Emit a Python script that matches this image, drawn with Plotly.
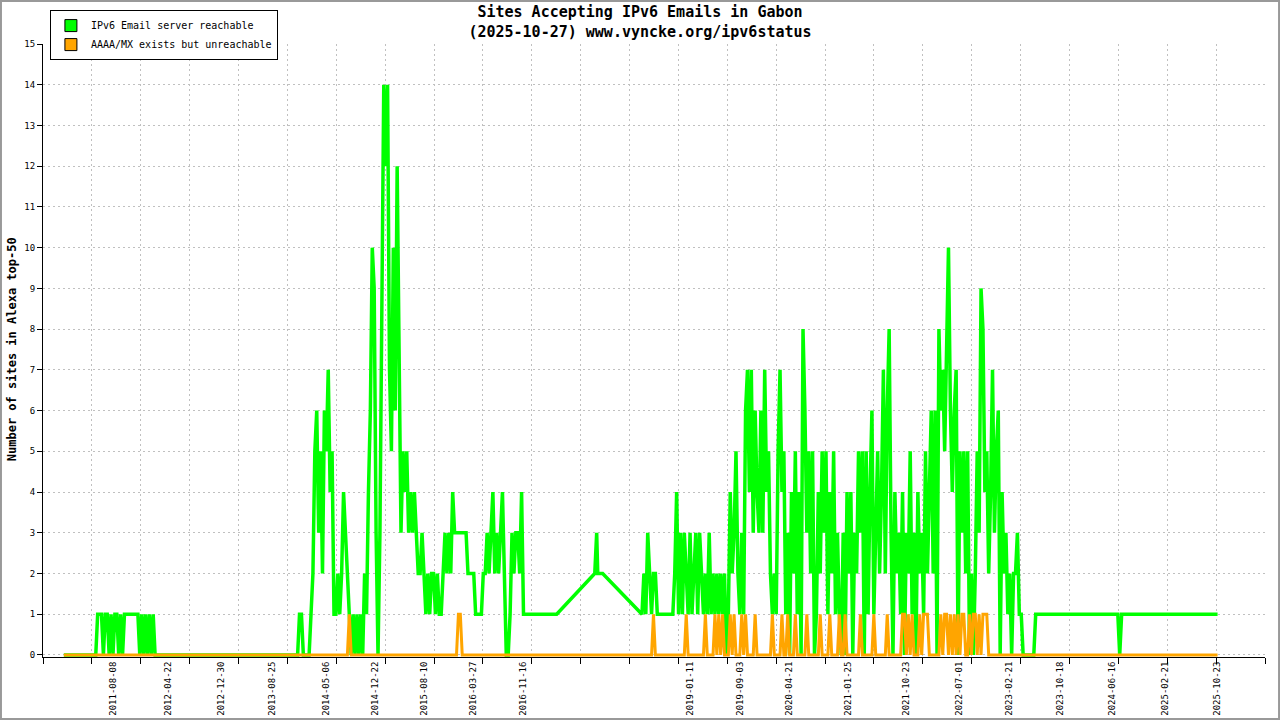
import pandas as pd
import plotly.graph_objects as go

# IPv6 email status for Gabon
start_date = "2010-12-21"
end_date = "2025-10-27"
step = "9D"

# 2011 burst (reachable), samples every 9 days from 2011-05-11
a_start = "2011-05-11"
green_a = [0, 0, 1, 1, 1, 0, 1, 1, 0, 1, 0, 1, 1, 0, 1, 0, 1, 1, 1, 1, 1, 1, 1, 1,
           0, 1, 0, 1, 0, 1, 0, 1, 0]

# 2014-2016, samples every 9 days from 2013-12-15
b_start = "2013-12-15"
green_b = [0, 0, 1, 1, 0, 0, 0, 0, 1, 2,
           5, 6, 3, 5, 2, 6, 5, 7, 4, 5,
           1, 1, 2, 1, 2, 4, 3, 2, 1, 0,
           1, 0, 1, 0, 1, 0, 2, 1, 4, 6,
           10, 9, 3, 0, 3, 9, 14, 12, 14, 7,
           5, 10, 6, 12, 8, 3, 5, 4, 5, 3,
           4, 3, 4, 3, 2, 2, 3, 2, 1, 2,
           1, 2, 2, 1, 2, 1, 1, 2, 3, 2,
           3, 2, 4, 3, 3, 3, 3, 3, 3, 3,
           2, 2, 2, 2, 1, 1, 1, 1, 2, 2,
           3, 2, 3, 4, 2, 3, 2, 3, 4, 2,
           0, 0, 1, 3, 2, 3, 3, 2, 4, 1, 1]
orange_b = [0] * 28 + [1] + [0] * 56 + [1, 1] + [0] * 34

# sparse readings 2017-2018
mid_dates = ["2017-04-25", "2017-10-21", "2017-10-30", "2017-11-04", "2017-11-27"]
green_mid = [1, 2, 3, 2, 2]

# mid 2018, samples every 9 days from 2018-05-31
c1_start = "2018-05-31"
green_c1 = [1, 2, 1, 3, 2, 1, 2, 2, 1]
orange_c1 = [0, 0, 0, 0, 0, 0, 1, 0, 0]

# late 2018 - 2023, samples every 9 days from 2018-10-23
c2_start = "2018-10-23"
green_c2 = [1, 2, 4, 1, 3, 1, 3, 2, 1, 3,
            1, 2, 3, 1, 3, 2, 1, 2, 1, 3,
            1, 2, 1, 2, 1, 2, 1, 2, 0, 1,
            4, 2, 3, 5, 2, 1, 3, 1, 6, 7,
            4, 7, 3, 6, 4, 3, 6, 3, 7, 4,
            5, 2, 1, 2, 1, 5, 7, 4, 5, 1,
            3, 0, 4, 2, 5, 1, 4, 0, 8, 6,
            3, 5, 2, 5, 0, 1, 4, 2, 5, 3,
            5, 1, 4, 2, 5, 1, 3, 1, 0, 3,
            0, 4, 2, 4, 0, 3, 2, 5, 3, 5,
            0, 5, 1, 4, 6, 1, 3, 5, 2, 4,
            7, 2, 6, 8, 3, 0, 4, 2, 3, 1,
            4, 0, 3, 2, 5, 1, 3, 0, 4, 2,
            3, 1, 5, 2, 4, 6, 2, 6, 0, 8,
            6, 7, 5, 8, 10, 6, 4, 6, 7, 0,
            5, 3, 5, 2, 5, 0, 2, 0, 2, 5,
            3, 9, 8, 4, 5, 2, 4, 7, 3, 5,
            6, 0, 4, 2, 3, 1, 2, 0, 2, 2,
            3, 1, 1, 0]
orange_c2 = [0, 0, 0, 0, 0, 0, 0, 1, 0, 0,
             0, 0, 0, 0, 0, 0, 0, 1, 0, 0,
             0, 0, 1, 0, 1, 0, 1, 0, 0, 0,
             1, 0, 1, 0, 0, 0, 1, 0, 1, 0,
             0, 0, 0, 1, 0, 0, 0, 0, 0, 0,
             0, 0, 1, 0, 0, 0, 0, 1, 0, 0,
             1, 0, 0, 0, 1, 0, 0, 0, 0, 0,
             1, 0, 0, 0, 0, 0, 0, 1, 0, 0,
             0, 0, 1, 0, 0, 0, 0, 1, 0, 0,
             1, 0, 0, 0, 0, 0, 0, 0, 1, 0,
             0, 0, 0, 0, 0, 1, 0, 0, 0, 0,
             0, 0, 1, 0, 0, 0, 0, 0, 0, 0,
             1, 1, 0, 1, 0, 1, 0, 0, 0, 1,
             0, 1, 1, 1, 0, 0, 0, 0, 0, 0,
             1, 0, 1, 1, 0, 1, 0, 1, 0, 1,
             0, 1, 1, 0, 0, 1, 0, 1, 1, 0,
             1, 0, 1, 1, 1, 0, 0, 0, 0, 0,
             0, 0, 0, 0, 0, 0, 0, 0, 0, 0,
             0, 0, 0, 0]

# 2023 onwards
tail_dates = ["2023-06-16", "2023-06-25", "2024-07-15", "2024-07-24", "2024-08-02", end_date]
green_tail = [0, 1, 1, 0, 1, 1]

tick_labels = ["2011-08-08", "2012-04-22", "2012-12-30", "2013-08-25", "2014-05-06",
               "2014-12-22", "2015-08-10", "2016-03-27", "2016-11-16", "2019-01-11",
               "2019-09-03", "2020-04-21", "2021-01-25", "2021-10-23", "2022-07-01",
               "2023-02-21", "2023-10-18", "2024-06-16", "2025-02-21", "2025-10-23"]


def sampled(start, vals):
    return list(pd.date_range(start, periods=len(vals), freq=step))


green_x = ([pd.Timestamp(start_date)] + sampled(a_start, green_a) + sampled(b_start, green_b)
           + list(pd.to_datetime(mid_dates)) + sampled(c1_start, green_c1)
           + sampled(c2_start, green_c2) + list(pd.to_datetime(tail_dates)))
green_y = [0] + green_a + green_b + green_mid + green_c1 + green_c2 + green_tail

orange_x = ([pd.Timestamp(start_date)] + sampled(b_start, orange_b) + sampled(c1_start, orange_c1)
            + sampled(c2_start, orange_c2) + [pd.Timestamp(end_date)])
orange_y = [0] + orange_b + orange_c1 + orange_c2 + [0]

mono = "DejaVu Sans Mono"
green = "#00ff00"
orange = "#ffa500"
grid = "#c0c0c0"

fig = go.Figure()
fig.add_trace(go.Scatter(x=green_x, y=green_y, mode="lines", line=dict(color=green, width=3.5),
                         showlegend=False, hoverinfo="skip"))
fig.add_trace(go.Scatter(x=orange_x, y=orange_y, mode="lines", line=dict(color=orange, width=3),
                         showlegend=False, hoverinfo="skip"))
# legend swatches
fig.add_trace(go.Bar(x=[None], y=[None], name="IPv6 Email server reachable",
                     marker=dict(color=green, line=dict(color="black", width=1))))
fig.add_trace(go.Bar(x=[None], y=[None], name="AAAA/MX exists but unreachable",
                     marker=dict(color=orange, line=dict(color="black", width=1))))
# carrier for the evenly spaced tick/grid axis
fig.add_trace(go.Scatter(x=[None], y=[None], xaxis="x2", showlegend=False, hoverinfo="skip"))

x_range = ["2010-09-14", "2026-06-07"]

fig.update_layout(
    width=1280, height=720,
    margin=dict(l=43, r=15, t=44, b=63, autoexpand=False),
    paper_bgcolor="white", plot_bgcolor="white",
    title=dict(text="<b>Sites Accepting IPv6 Emails in Gabon</b><br><b>(2025-10-27) www.vyncke.org/ipv6status</b>",
               x=0.5, xref="container", xanchor="center",
               y=0.976, yref="container", yanchor="top",
               font=dict(family=mono, size=15, color="black")),
    xaxis=dict(type="date", range=x_range, tickmode="array",
               tickvals=tick_labels, ticktext=tick_labels, tickangle=-90,
               ticks="", showgrid=False, zeroline=False, automargin=False,
               showline=True, linecolor="black", linewidth=1, layer="below traces",
               tickfont=dict(family=mono, size=9, color="black")),
    xaxis2=dict(type="date", range=x_range, overlaying="x", anchor="y", side="bottom",
                tickmode="linear", tick0="2010-09-14", dtick=229.8 * 86400000,
                showticklabels=False, ticks="outside", ticklen=6, tickcolor="black",
                showgrid=True, gridcolor=grid, griddash="2px,3px", gridwidth=1,
                zeroline=False, showline=False, layer="below traces", automargin=False),
    yaxis=dict(range=[-0.05, 15], tickmode="linear", tick0=0, dtick=1,
               ticks="outside", ticklen=5, tickcolor="black",
               showline=True, linecolor="black", linewidth=1, zeroline=False,
               showgrid=True, gridcolor=grid, griddash="2px,3px", gridwidth=1,
               layer="below traces", automargin=False,
               tickfont=dict(family=mono, size=9, color="black")),
    legend=dict(xref="container", yref="container", x=0.039, y=0.986,
                xanchor="left", yanchor="top",
                bgcolor="white", bordercolor="black", borderwidth=1,
                font=dict(family=mono, size=10, color="black"),
                tracegroupgap=0, itemwidth=30),
    showlegend=True,
)

# y axis title, placed by hand next to the tick labels
fig.add_annotation(text="<b>Number of sites in Alexa top-50</b>", textangle=-90,
                   xref="paper", yref="paper", x=-0.0254, y=0.502,
                   xanchor="center", yanchor="middle", showarrow=False,
                   font=dict(family=mono, size=12, color="black"))

# grey frame around the whole picture
fig.add_shape(type="rect", xref="paper", yref="paper",
              x0=-0.0344, x1=1.0115, y0=-0.1011, y1=1.0702,
              line=dict(color="#999999", width=2), fillcolor="rgba(0,0,0,0)")

# drop the browser's default 8px page margin so the chart sits at the window origin
fig.write_html("out.html", config={"displayModeBar": False},
               post_script="document.body.style.margin='0px';")
